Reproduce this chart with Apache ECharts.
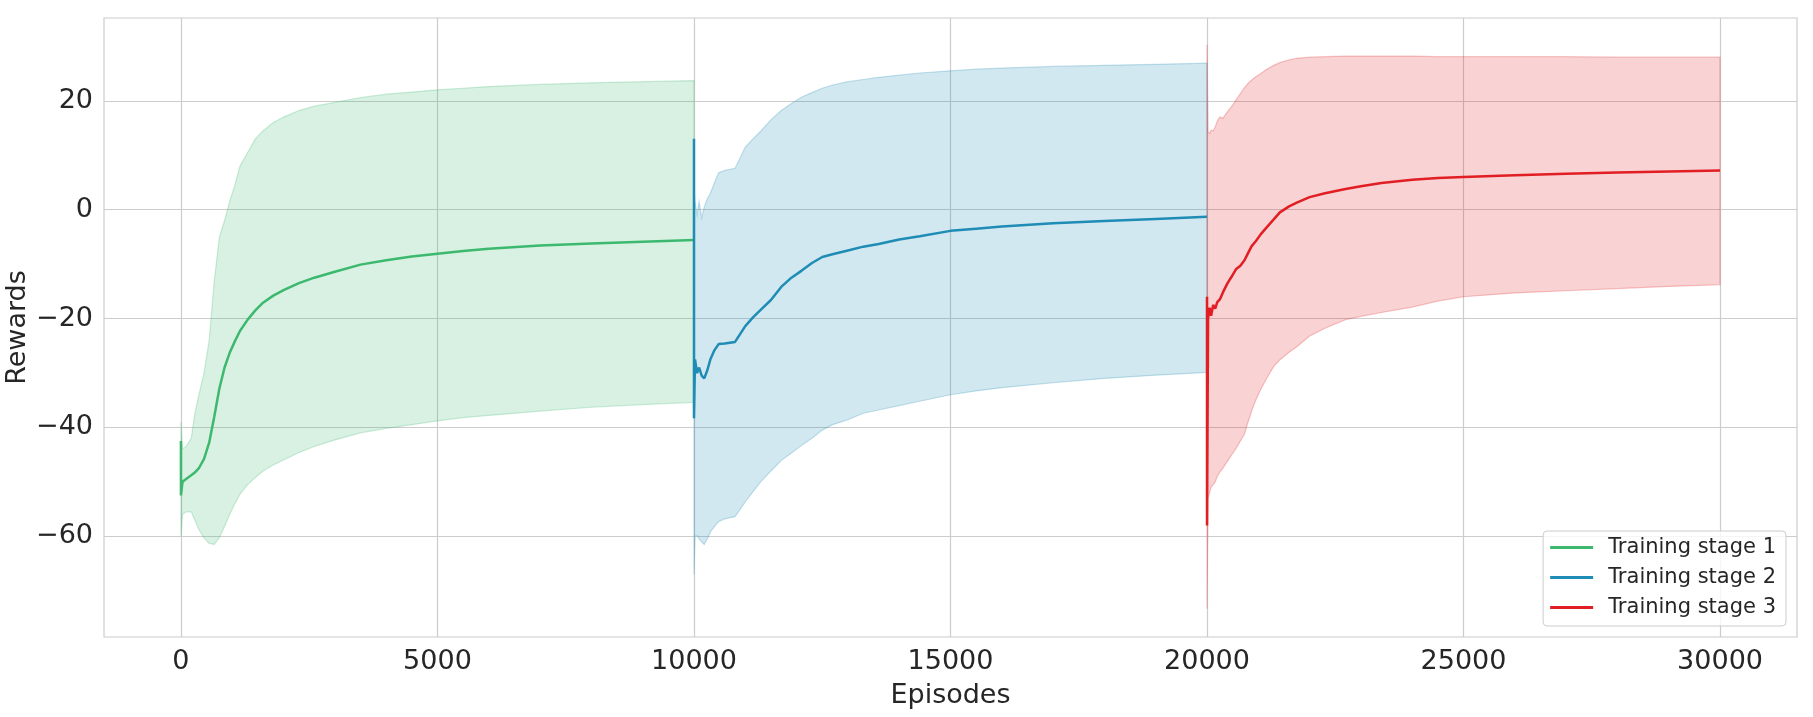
<!DOCTYPE html>
<html>
<head>
<meta charset="utf-8">
<script src="https://cdn.jsdelivr.net/npm/echarts@6/dist/echarts.min.js"></script>
<style>
html,body{margin:0;padding:0;background:#fff;}
#chart{width:1813px;height:717px;}
</style>
</head>
<body>
<div id="chart"></div>
<script>
// ---- Data ----
const seriesNames = ['Training stage 1', 'Training stage 2', 'Training stage 3'];
const xTicks = [0, 5000, 10000, 15000, 20000, 25000, 30000];
const yTicks = [-60, -40, -20, 0, 20];

const stage1X = [0, 0, 30, 100, 200, 270, 350, 450, 550, 650, 750, 850, 950, 1050, 1150, 1300, 1450, 1600, 1800, 2000, 2300, 2600, 3000, 3500, 4000, 4500, 5000, 5500, 6000, 7000, 8000, 9000, 10000];
const stage1Mean = [-42.5, -52.5, -50, -49.5, -48.8, -48.3, -47.5, -45.8, -42.8, -38, -32.8, -29, -26.3, -24.2, -22.3, -20.2, -18.5, -17.1, -15.8, -14.8, -13.5, -12.5, -11.4, -10.1, -9.3, -8.6, -8.1, -7.6, -7.2, -6.6, -6.2, -5.9, -5.6];
const stage1Upper = [-39, -39, -44, -43.5, -42, -37.5, -34, -30, -24, -13, -5, -2, 1.5, 4.5, 8, 10.5, 13, 14.5, 16, 17, 18.2, 19, 19.7, 20.6, 21.2, 21.6, 22, 22.3, 22.6, 23, 23.3, 23.5, 23.7];
const stage1Lower = [-60, -60, -56, -55.5, -55.5, -57, -58.8, -60.3, -61.3, -61.5, -60.2, -58.2, -56, -54, -52.3, -50.5, -49.2, -48, -46.9, -46, -44.6, -43.5, -42.3, -41, -40.2, -39.5, -38.8, -38.2, -37.8, -37, -36.3, -35.8, -35.4];

const stage2X = [10000, 10000, 10020, 10060, 10100, 10150, 10200, 10260, 10320, 10400, 10480, 10600, 10800, 11000, 11150, 11300, 11500, 11700, 11900, 12100, 12300, 12500, 12700, 13000, 13300, 13600, 14000, 14400, 15000, 15500, 16000, 17000, 18000, 19000, 20000];
const stage2Mean = [13, -38.3, -27.5, -30, -29, -30.5, -31, -29.5, -27.5, -25.8, -24.7, -24.6, -24.3, -21.4, -19.8, -18.4, -16.6, -14.2, -12.5, -11.2, -9.8, -8.7, -8.2, -7.5, -6.8, -6.3, -5.5, -4.9, -3.9, -3.5, -3.1, -2.5, -2.1, -1.7, -1.3];
const stage2Upper = [4, 4, 1.5, -1, 1.5, -1.5, 0.5, 2, 3, 5, 6.8, 7.2, 7.6, 11.5, 13, 14.4, 16.5, 18.2, 19.5, 20.7, 21.5, 22.3, 22.9, 23.5, 23.9, 24.3, 24.7, 25.1, 25.5, 25.8, 26, 26.3, 26.5, 26.7, 26.9];
const stage2Lower = [-67, -67, -60, -59.8, -60.5, -61, -61.5, -60.5, -59.2, -58.2, -57.3, -56.8, -56.4, -53.7, -51.8, -50, -48, -46.1, -44.7, -43.3, -42, -40.5, -39.5, -38.6, -37.4, -36.8, -36, -35.2, -34, -33.3, -32.7, -31.8, -31, -30.4, -29.9];

const stage3X = [20000, 20000, 20020, 20050, 20080, 20120, 20160, 20200, 20250, 20310, 20400, 20500, 20570, 20650, 20730, 20800, 20870, 20950, 21050, 21150, 21300, 21420, 21600, 21750, 22000, 22300, 22700, 23000, 23400, 24000, 24500, 25000, 26000, 27000, 28000, 29000, 30000];
const stage3Mean = [-16, -58, -20, -18, -19.5, -17.5, -18.2, -17, -16.5, -15.2, -13.5, -12, -10.9, -10.3, -9.3, -8, -6.7, -5.8, -4.5, -3.4, -1.8, -0.5, 0.6, 1.3, 2.3, 3, 3.8, 4.3, 4.9, 5.5, 5.8, 6.0, 6.3, 6.6, 6.8, 7.0, 7.2];
const stage3Upper = [30.3, 30.3, 14.3, 14, 14.6, 14.5, 15.2, 16.3, 17, 16.8, 18, 19.2, 20.2, 21.3, 22.4, 23.2, 23.8, 24.4, 25, 25.7, 26.5, 27, 27.5, 27.8, 28, 28.1, 28.2, 28.2, 28.2, 28.2, 28.1, 28.1, 28.1, 28.1, 28, 28, 28];
const stage3Lower = [-73.3, -73.3, -53, -52, -51, -50.5, -50, -49, -48.2, -47.5, -46.2, -44.8, -43.8, -42.5, -41.2, -39, -37, -35, -33, -31.2, -28.8, -27.6, -26.2, -25.2, -23.2, -21.8, -20.2, -19.6, -18.9, -17.9, -16.8, -16, -15.3, -14.9, -14.5, -14.1, -13.8];

// ---- Styles ----
const lineColors = ['rgb(60,185,110)', 'rgb(30,140,180)', 'rgb(225,30,35)'];
const fillColors = ['rgba(60,185,110,0.2)', 'rgba(30,140,180,0.2)', 'rgba(225,30,35,0.2)'];
const edgeColors = ['rgba(60,185,110,0.25)', 'rgba(30,140,180,0.25)', 'rgba(225,30,35,0.25)'];
const FONT = 'DejaVu Sans';
const TEXT = '#262626';
const GRIDC = '#cccccc';

const stages = [
  {x: stage1X, m: stage1Mean, u: stage1Upper, l: stage1Lower},
  {x: stage2X, m: stage2Mean, u: stage2Upper, l: stage2Lower},
  {x: stage3X, m: stage3Mean, u: stage3Upper, l: stage3Lower}
];

const series = [];
stages.forEach((s, i) => {
  series.push({
    type: 'custom',
    silent: true,
    z: 1,
    clip: true,
    data: [[s.x[0], s.m[0]]],
    renderItem: function (params, api) {
      const pts = [];
      for (let k = 0; k < s.x.length; k++) pts.push(api.coord([s.x[k], s.u[k]]));
      for (let k = s.x.length - 1; k >= 0; k--) pts.push(api.coord([s.x[k], s.l[k]]));
      return {
        type: 'polygon',
        shape: {points: pts},
        style: {fill: fillColors[i], stroke: edgeColors[i], lineWidth: 1.2}
      };
    }
  });
});
stages.forEach((s, i) => {
  series.push({
    name: seriesNames[i],
    type: 'line',
    z: 3,
    symbol: 'none',
    showSymbol: false,
    data: s.x.map((x, k) => [x, s.m[k]]),
    lineStyle: {color: lineColors[i], width: 2.5},
    itemStyle: {color: lineColors[i]}
  });
});

const chart = echarts.init(document.getElementById('chart'), null, {renderer: 'canvas'});
chart.setOption({
  animation: false,
  backgroundColor: '#ffffff',
  textStyle: {fontFamily: FONT, color: TEXT},
  grid: {left: 104, right: 16, top: 18, bottom: 80, show: true, borderColor: GRIDC, borderWidth: 1.2,
    backgroundColor: 'transparent', containLabel: false, outerBoundsMode: 'none'},
  xAxis: {
    type: 'value',
    min: -1500, max: 31500,
    name: 'Episodes',
    nameLocation: 'middle',
    nameGap: 45,
    nameMoveOverlap: false,
    nameTextStyle: {fontFamily: FONT, fontSize: 27, color: TEXT},
    axisLine: {show: false},
    axisTick: {show: false, customValues: xTicks},
    axisLabel: {customValues: xTicks, fontFamily: FONT, fontSize: 27, color: TEXT, margin: 11,
      formatter: v => String(v)},
    splitLine: {show: true, lineStyle: {color: GRIDC, width: 1.2}}
  },
  yAxis: {
    type: 'value',
    min: -78.5, max: 35.2,
    name: 'Rewards',
    nameLocation: 'middle',
    nameGap: 73,
    nameMoveOverlap: false,
    nameTextStyle: {fontFamily: FONT, fontSize: 27, color: TEXT},
    axisLine: {show: false},
    axisTick: {show: false, customValues: yTicks},
    axisLabel: {customValues: yTicks, fontFamily: FONT, fontSize: 27, color: TEXT, margin: 11,
      formatter: v => (v < 0 ? '\u2212' + Math.abs(v) : String(v))},
    splitLine: {show: true, lineStyle: {color: GRIDC, width: 1.2}}
  },
  legend: {
    data: seriesNames.map(n => ({name: n, icon: 'rect'})),
    orient: 'vertical',
    right: 27,
    bottom: 91,
    itemWidth: 43,
    itemHeight: 3,
    itemGap: 9,
    padding: [6, 10, 8, 7],
    backgroundColor: 'rgba(255,255,255,0.8)',
    borderColor: GRIDC,
    borderWidth: 1,
    borderRadius: 4,
    textStyle: {fontFamily: FONT, fontSize: 21, color: TEXT, padding: [0, 0, 0, 10]}
  },
  series: series
});
</script>
</body>
</html>
